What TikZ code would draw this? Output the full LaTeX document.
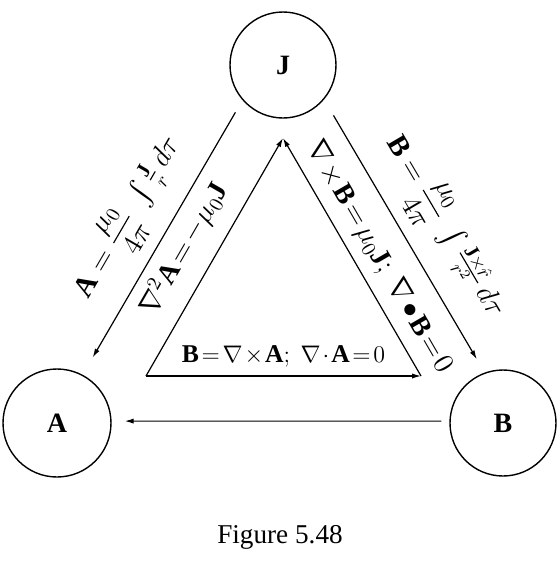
\documentclass[tikz,border=0pt]{standalone}
\usepackage{amsmath}
\usepackage{fontspec}
\setmainfont{Liberation Serif}
\usetikzlibrary{arrows.meta}

\newcommand{\sr}{r}
\newcommand{\tightmath}{\thickmuskip=2mu\medmuskip=1.5mu}

\tikzset{
  field/.style={circle, draw, line width=0.7pt, minimum size=53pt, inner sep=0pt,
    font=\fontsize{14}{16}\selectfont\bfseries},
  rel/.style={font=\fontsize{14}{16}\selectfont\tightmath, inner sep=1pt, sloped},
  law/.style={font=\fontsize{14.5}{16}\selectfont, inner sep=1pt, sloped}
}

\begin{document}
\begin{tikzpicture}[x=0.5pt, y=-0.5pt, >={Latex[length=4.5pt,width=2.6pt]}, line width=0.6pt]
  \useasboundingbox (0,0) rectangle (560,569);
  % the three fields
  \node[field] (J) at (283,65) {J};
  \node[field, minimum size=54pt] (A) at (57,423) {A};
  \node[field] (B) at (503,423) {B};
  % corners of the inner triangle
  \coordinate (ta) at (146,376);
  \coordinate (tb) at (421,376);
  \coordinate (tj) at (283,138);
  % outer arrows
  \draw[->, shorten <=7pt, shorten >=9.9pt] (J.221) -- (A.62)
    node[law, midway, above=5pt] (lja) {$\mathbf{A}=\dfrac{\mu_0}{4\pi}\;\int\frac{\mathbf{J}}{\sr}\,d\tau$};
  \draw[->, shorten <=9.2pt, shorten >=7.7pt] (J.-40) -- (B.110)
    node[law, pos=0.54, above=5pt] (ljb) {$\mathbf{B}=\dfrac{\mu_0}{4\pi}\;\int\frac{\mathbf{J}\times\hat{\sr}}{\sr^2}\,d\tau$};
  \draw[->, shorten <=4pt, shorten >=6.5pt] (B.178) -- (A.2);
  % inner triangle
  \draw[->] (ta) -- (tj)
    node[rel, pos=0.47, above=7pt] (lat) {$\nabla^2\mathbf{A}=-\mu_0\mathbf{J}$};
  \draw[->] (tb) -- (tj)
    node[rel, pos=0.45, above=4pt] (lbt) {$\nabla\times\mathbf{B}=\mu_0\mathbf{J};\ \nabla\bullet\mathbf{B}=0$};
  \draw[->] (ta) -- (tb)
    node[rel, midway, above=3pt, font=\fontsize{12.8}{15}\selectfont\tightmath] (lab) {$\mathbf{B}=\nabla\times\mathbf{A};\ \nabla\cdot\mathbf{A}=0$};
  % caption
  \node[anchor=base, font=\fontsize{13.6}{16}\selectfont] (cap) at (280,543) {Figure 5.48};
\end{tikzpicture}
\end{document}
